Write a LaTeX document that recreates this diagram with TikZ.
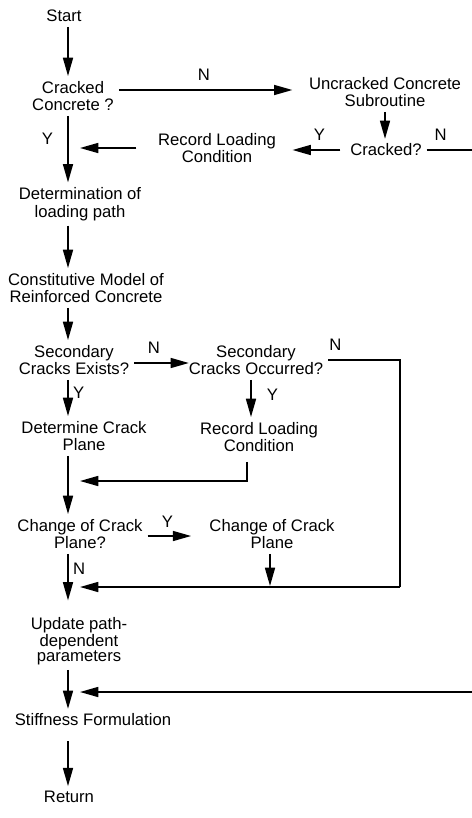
\documentclass[tikz,border=0pt]{standalone}
\usepackage{fontspec}
\setmainfont{Liberation Sans}
\usetikzlibrary{arrows.meta,calc}
\begin{document}
\begin{tikzpicture}[x=0.6pt, y=-0.6pt, font=\fontsize{10}{10.6}\selectfont]
\useasboundingbox (0,0) rectangle (471,818);
\coordinate (col) at (68,0);
\coordinate (c2) at (251,0);
\coordinate (c3) at (247,0);
\coordinate (c4) at (270,0);
\begin{scope}[every node/.style = {align=center, inner sep=0pt, outer sep=3pt}]
\node (start) at (64,16) {Start};
\node (crk) at (73,96) {Cracked\\Concrete ?};
\node (unc) at (385,92) {Uncracked Concrete\\Subroutine};
\node (crq) at (386,150) {Cracked?};
\node (rec1) at (217,148) {Record Loading\\Condition};
\node (det) at (80,204) {Determination of\\loading path};
\node (con) at (86,288) {Constitutive Model of\\Reinforced Concrete};
\node (sce) at (74,360) {Secondary\\Cracks Exists?};
\node (sco) at (256,360) {Secondary\\Cracks Occurred?};
\node (dcp) at (84,436) {Determine Crack\\Plane};
\node (rec2) at (259,437) {Record Loading\\Condition};
\node (chq) at (80,534) {Change of Crack\\Plane?};
\node (chp) at (272,534) {Change of Crack\\Plane};
\node[font=\fontsize{10}{9}\selectfont] (upd) at (79,641) {Update path-\\dependent\\parameters};
\node (stf) at (93,720) {Stiffness Formulation};
\node (ret) at (69,797) {Return};
\end{scope}
% free ends of the connectors
\coordinate (j1) at (80,148);
\coordinate (e1) at (473,692);
\coordinate (j7) at (80,692);
\coordinate (e2) at (400,587);
\coordinate (j11) at (80,587);
\coordinate (j15) at (80,481);
\coordinate (j17) at (270,586);
\begin{scope}[every node/.style = {inner sep=0pt, outer sep=3pt},
  every edge/.style = {draw, line width=1pt, -{Triangle[length=11pt,width=6pt]}},
  arr/.style = {line width=1pt, -{Triangle[length=11pt,width=6pt]}}]
\path (start.south -| col) edge (crk.north -| col);
\path ($(crk.east)+(0,-6)$) edge[shorten >=7pt] node[above=2.5pt, pos=0.46] {N} ($(crk.east -| unc.west)+(0,-6)$);
\path (unc.south) edge (unc.south |- crq.north);
\path (crq.west) edge[shorten <=3pt, shorten >=7pt] node[above=3pt, pos=0.4] {Y} (crq.west -| rec1.east);
\path (rec1.west) edge[shorten <=10pt] (j1);
\path (crk.south -| col) edge node[left=6pt, pos=0.34] {Y} (det.north -| col);
\draw[arr] (crq.east) -| node[pos=0.15, above=2.5pt] {N} (e1) -- (j7);
\path (det.south -| col) edge (con.north -| col);
\path (con.south -| col) edge (sce.north -| col);
\path ($(sce.east)+(0,3)$) edge[shorten >=-3pt] node[above=3pt, pos=0.4] {N} ($(sce.east -| sco.west)+(0,3)$);
\draw[line width=1pt] (sco.east) -| node[pos=0.05, above=3pt] {N} (e2);
\draw[arr] (e2) -- (j11);
\path (sce.south -| col) edge node[right=0pt, pos=0.35] {Y} (dcp.north -| col);
\path (sco.south -| c2) edge node[right=6.5pt, pos=0.4] {Y} (rec2.north -| c2);
\path (dcp.south -| col) edge (chq.north -| col);
\draw[arr, shorten <=3pt] (rec2.south -| c3) |- (j15);
\path ($(chq.east)+(0,2)$) edge[shorten >=8pt] node[above=2pt, pos=0.35] {Y} ($(chq.east -| chp.west)+(0,2)$);
\path (chp.south -| c4) edge (j17);
\path (chq.south -| col) edge[shorten >=7pt] node[right=0pt, pos=0.25] {N} (upd.north -| col);
\path (upd.south -| col) edge (stf.north -| col);
\path (stf.south -| col) edge[shorten <=6pt] (ret.north -| col);
\end{scope}
\end{tikzpicture}
\end{document}
